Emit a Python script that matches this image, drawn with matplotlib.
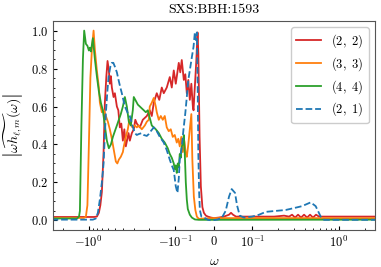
import matplotlib
matplotlib.use("Agg")
import matplotlib.pyplot as plt
import numpy as np

plt.rcParams.update({
    "font.family": "serif",
    "font.serif": ["cmr10", "DejaVu Serif"],
    "mathtext.fontset": "cm",
    "axes.formatter.use_mathtext": True,
    "axes.unicode_minus": True,
})

title = "SXS:BBH:1593"
labels = [r"$(2,\ 2)$", r"$(3,\ 3)$", r"$(4,\ 4)$", r"$(2,\ 1)$"]

w22 = [-2.7, -0.8755, -0.809, -0.767, -0.737, -0.708, -0.6765, -0.654, -0.628, -0.6088,
       -0.588, -0.573, -0.557, -0.5428, -0.519, -0.501, -0.475, -0.457, -0.439, -0.422,
       -0.405, -0.3895, -0.3743, -0.3484, -0.3367, -0.319, -0.303, -0.2909, -0.2795, -0.258,
       -0.2384, -0.2143, -0.198, -0.1877, -0.178, -0.1644, -0.1538, -0.1439, -0.1365, -0.126,
       -0.1163, -0.1103, -0.1046, -0.0992, -0.0914, -0.0875, -0.0836, -0.0783, -0.0744, -0.0705,
       -0.0666, -0.0627, -0.0587, -0.0548, -0.053, -0.0509, -0.0483, -0.0457, -0.0426, -0.0405,
       -0.0373, -0.034, -0.03, -0.0261, -0.0209, -0.0157, -0.0078, 0.0, 0.013, 0.0261,
       0.0392, 0.0444, 0.0496, 0.0574, 0.0783, 0.1195, 0.178, 0.232, 0.265, 0.287,
       0.311, 0.3367, 0.3645, 0.395, 0.428, 0.4635, 0.501, 0.5428, 0.588, 0.671, 2.7]
h22 = [0.018, 0.018, 0.02, 0.04, 0.08, 0.15, 0.36, 0.62, 0.76, 0.84,
       0.79, 0.72, 0.76, 0.70, 0.65, 0.67, 0.60, 0.58, 0.49, 0.51,
       0.42, 0.48, 0.39, 0.46, 0.42, 0.46, 0.48, 0.53, 0.51, 0.49,
       0.53, 0.55, 0.58, 0.55, 0.62, 0.67, 0.635, 0.70, 0.67, 0.70,
       0.755, 0.70, 0.79, 0.72, 0.83, 0.78, 0.845, 0.74, 0.77, 0.67,
       0.74, 0.635, 0.72, 0.60, 0.58, 0.66, 0.75, 0.845, 0.99, 0.88,
       0.44, 0.18, 0.07, 0.04, 0.025, 0.02, 0.015, 0.012, 0.015, 0.02,
       0.03, 0.04, 0.03, 0.02, 0.02, 0.02, 0.02, 0.025, 0.02, 0.03,
       0.015, 0.03, 0.015, 0.03, 0.015, 0.03, 0.015, 0.03, 0.02, 0.02, 0.02]

w33 = [-2.7, -1.14, -1.083, -1.04, -1.0, -0.961, -0.923, -0.8826, -0.853, -0.809,
       -0.767, -0.7466, -0.708, -0.671, -0.637, -0.6036, -0.573, -0.5428, -0.515, -0.488,
       -0.469, -0.451, -0.428, -0.405, -0.3947, -0.3743, -0.355, -0.341, -0.328, -0.315,
       -0.2948, -0.2795, -0.265, -0.2447, -0.226, -0.2143, -0.2032, -0.198, -0.1877, -0.178,
       -0.1688, -0.1644, -0.1558, -0.1477, -0.1401, -0.1329, -0.126, -0.1195, -0.1133, -0.1074,
       -0.1019, -0.0966, -0.0927, -0.0888, -0.0849, -0.0809, -0.077, -0.0731, -0.0705, -0.0666,
       -0.0627, -0.0587, -0.0561, -0.0522, -0.0483, -0.0444, -0.0392, -0.0261, 0.0, 2.7]
h33 = [0.013, 0.013, 0.02, 0.08, 0.40, 0.75, 0.90, 1.0, 0.90, 0.79,
       0.70, 0.62, 0.57, 0.58, 0.55, 0.52, 0.48, 0.43, 0.37, 0.31,
       0.30, 0.32, 0.335, 0.36, 0.39, 0.44, 0.48, 0.53, 0.51, 0.49,
       0.50, 0.49, 0.50, 0.48, 0.50, 0.52, 0.53, 0.60, 0.62, 0.645,
       0.60, 0.57, 0.53, 0.55, 0.53, 0.55, 0.49, 0.47, 0.48, 0.44,
       0.45, 0.41, 0.43, 0.39, 0.44, 0.36, 0.42, 0.35, 0.335, 0.40,
       0.48, 0.56, 0.32, 0.125, 0.055, 0.02, 0.008, 0.01, 0.012, 0.012]

w44 = [-2.7, -1.375, -1.30, -1.27, -1.22, -1.172, -1.133, -1.083, -1.04, -1.0,
       -0.973, -0.948, -0.899, -0.853, -0.809, -0.767, -0.727, -0.69, -0.654, -0.62,
       -0.588, -0.557, -0.528, -0.501, -0.475, -0.451, -0.428, -0.405, -0.384, -0.3645,
       -0.3457, -0.328, -0.311, -0.303, -0.287, -0.272, -0.258, -0.2447, -0.232, -0.22,
       -0.2087, -0.198, -0.1877, -0.178, -0.1688, -0.1558, -0.1439, -0.1329, -0.1227, -0.1163,
       -0.1103, -0.1046, -0.1019, -0.0992, -0.0966, -0.094, -0.0914, -0.0888, -0.0862, -0.0836,
       -0.0809, -0.0783, -0.0757, -0.0731, -0.0705, -0.0679, -0.0627, -0.0574, -0.0496, -0.0392,
       2.7]
h44 = [0.01, 0.01, 0.02, 0.05, 0.50, 0.85, 1.0, 0.93, 0.92, 0.895,
       0.91, 0.89, 0.96, 0.85, 0.76, 0.68, 0.62, 0.58, 0.50, 0.42,
       0.38, 0.40, 0.44, 0.47, 0.50, 0.53, 0.56, 0.60, 0.65, 0.60,
       0.52, 0.50, 0.58, 0.65, 0.63, 0.61, 0.60, 0.59, 0.58, 0.57,
       0.58, 0.54, 0.50, 0.49, 0.48, 0.46, 0.43, 0.41, 0.38, 0.35,
       0.33, 0.30, 0.27, 0.29, 0.25, 0.30, 0.28, 0.35, 0.33, 0.39,
       0.40, 0.45, 0.35, 0.20, 0.11, 0.06, 0.03, 0.015, 0.005, 0.003,
       0.004]

w21 = [-2.7, -0.899, -0.8305, -0.7876, -0.7466, -0.708, -0.6765, -0.654, -0.637, -0.6116,
       -0.5927, -0.565, -0.5428, -0.5218, -0.501, -0.475, -0.4544, -0.4333, -0.4163, -0.384,
       -0.355, -0.3367, -0.319, -0.2948, -0.2795, -0.265, -0.2447, -0.232, -0.2143, -0.2032,
       -0.1928, -0.178, -0.1644, -0.1517, -0.1365, -0.126, -0.1163, -0.1103, -0.1046, -0.0992,
       -0.0948, -0.0914, -0.0888, -0.0836, -0.0791, -0.0744, -0.0705, -0.0666, -0.0627, -0.0574,
       -0.053, -0.0496, -0.047, -0.0444, -0.0423, -0.0405, -0.0384, -0.0366, -0.0326, -0.0261,
       -0.0157, -0.0052, 0.0104, 0.0209, 0.0305, 0.0392, 0.0462, 0.0548, 0.06, 0.0671,
       0.0783, 0.0992, 0.1195, 0.1428, 0.186, 0.2428, 0.303, 0.374, 0.4716, 0.538,
       0.615, 0.671, 2.7]
h21 = [0.004, 0.004, 0.01, 0.04, 0.11, 0.20, 0.30, 0.45, 0.565, 0.68,
       0.755, 0.81, 0.83, 0.83, 0.81, 0.78, 0.74, 0.70, 0.67, 0.60,
       0.565, 0.55, 0.51, 0.46, 0.45, 0.455, 0.46, 0.45, 0.445, 0.455,
       0.47, 0.49, 0.47, 0.44, 0.41, 0.37, 0.32, 0.29, 0.265, 0.18,
       0.145, 0.22, 0.32, 0.39, 0.48, 0.565, 0.65, 0.74, 0.79, 0.86,
       0.915, 0.99, 0.95, 0.99, 0.72, 0.35, 0.145, 0.055, 0.02, 0.015,
       0.003, 0.0, 0.005, 0.015, 0.05, 0.125, 0.165, 0.145, 0.08, 0.025,
       0.015, 0.02, 0.03, 0.045, 0.05, 0.055, 0.065, 0.075, 0.095, 0.075,
       0.02, 0.003, 0.003]

fig, ax = plt.subplots(figsize=(3.81, 2.67), dpi=100)
fig.subplots_adjust(left=0.139, right=0.984, top=0.921, bottom=0.139)

ax.plot(w22, h22, color="#d62728", lw=1.3, label=labels[0])
ax.plot(w33, h33, color="#ff7f0e", lw=1.3, label=labels[1])
ax.plot(w44, h44, color="#2ca02c", lw=1.3, label=labels[2])
ax.plot(w21, h21, color="#1f77b4", lw=1.3, ls="--", label=labels[3])

ax.set_xscale("symlog", linthresh=0.1, linscale=0.4, subs=[2, 3, 4, 5, 6, 7, 8, 9])
ax.set_xlim(-2.6, 2.6)
ax.set_ylim(-0.05, 1.05)
ax.set_yticks([0.0, 0.2, 0.4, 0.6, 0.8, 1.0])
ax.yaxis.set_minor_locator(matplotlib.ticker.MultipleLocator(0.05))
ax.tick_params(which="both", direction="in", labelsize=9)
ax.tick_params(which="major", length=3)
ax.tick_params(which="minor", length=1.5)
for s in ax.spines.values():
    s.set_color("#555555")
    s.set_linewidth(0.8)

ax.set_title(title, fontsize=10)
ax.set_xlabel(r"$\omega$", fontsize=10)
ax.set_ylabel(r"$\left|\widetilde{\omega h_{\ell,m}}(\omega)\right|$", fontsize=10)
ax.legend(loc="upper right", fontsize=9, handlelength=2.0, labelspacing=0.4,
          framealpha=1.0, edgecolor="#cccccc")

fig.savefig("out.png", dpi=100)
